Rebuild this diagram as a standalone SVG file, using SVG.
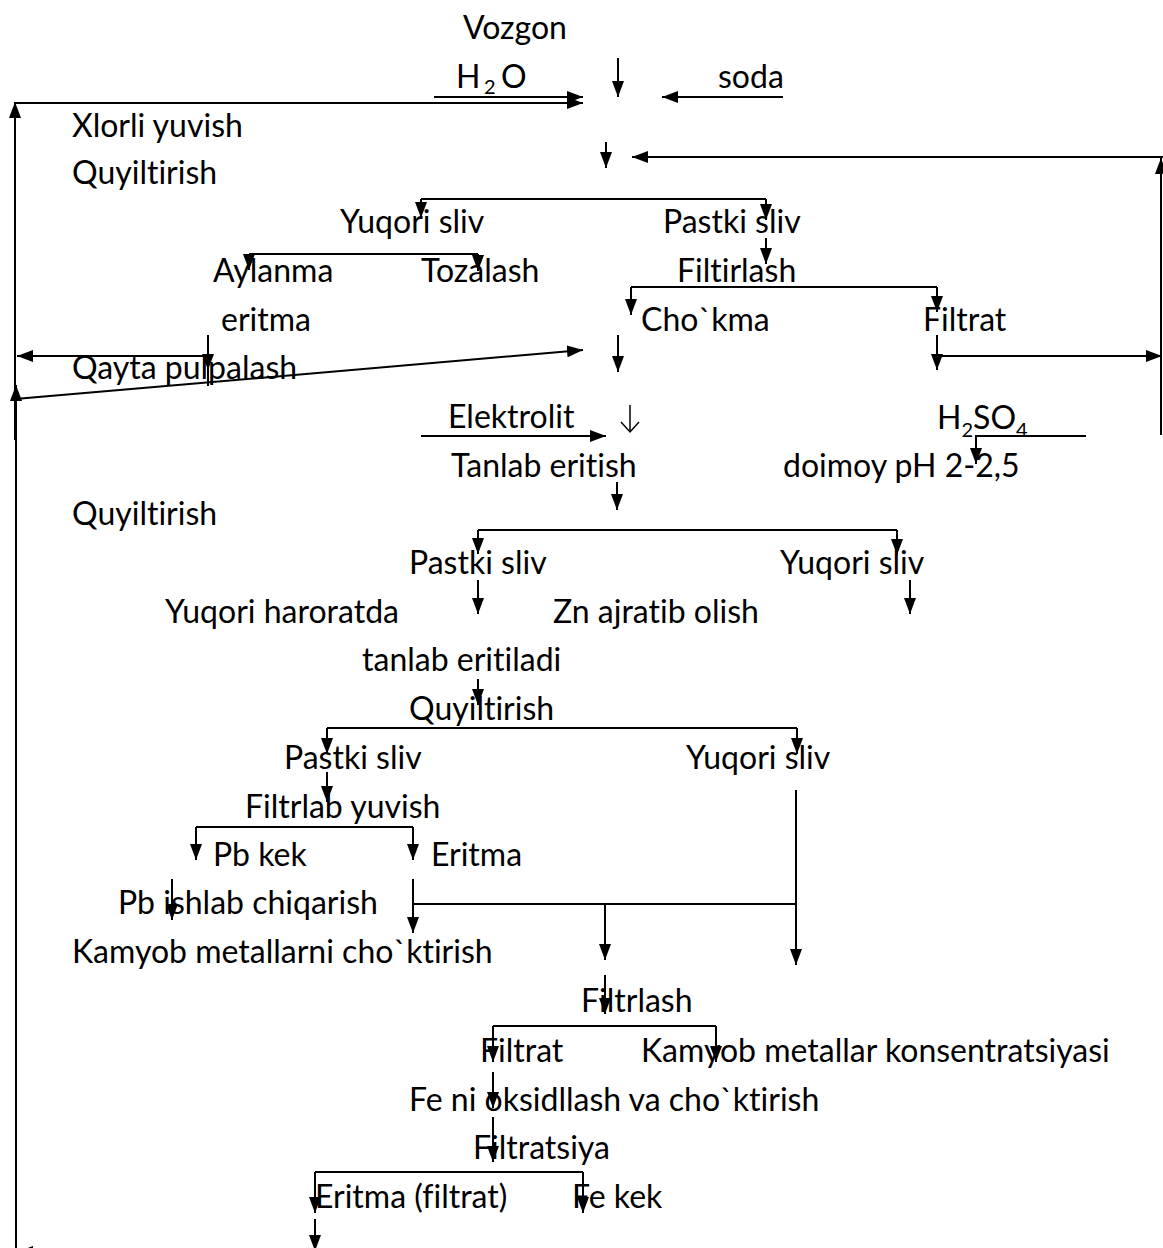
<svg xmlns="http://www.w3.org/2000/svg" width="1163" height="1248" viewBox="0 0 1163 1248">
<style>
.t{font-family:Lato,"Liberation Sans",sans-serif;font-size:32px;fill:#000;font-variant-ligatures:none;font-feature-settings:"liga" 0}
.s{font-size:20px}
.c line,.c path,.c polyline{stroke:#000;stroke-width:2;fill:none}
.c .thin{stroke-width:1.5}
</style>
<defs>
<marker id="ah" viewBox="0 0 16 12" refX="16" refY="6" markerWidth="16" markerHeight="12" markerUnits="userSpaceOnUse" orient="auto"><path d="M0,0 L16,6 L0,12 z" fill="#000"/></marker>
</defs>
<rect width="1163" height="1248" fill="#fff"/>
<g id="connectors" class="c">
<line x1="618" y1="58" x2="618" y2="97" marker-end="url(#ah)"/>
<line x1="434" y1="97" x2="583" y2="97" marker-end="url(#ah)"/>
<line x1="15" y1="103" x2="583" y2="103" marker-end="url(#ah)"/>
<line x1="783" y1="97" x2="662" y2="97" marker-end="url(#ah)"/>
<line x1="606" y1="142" x2="606" y2="168" marker-end="url(#ah)"/>
<line x1="1163" y1="157" x2="632" y2="157" marker-end="url(#ah)"/>
<line x1="1161" y1="435" x2="1161" y2="158" marker-end="url(#ah)"/>
<line x1="15" y1="440" x2="15" y2="102" marker-end="url(#ah)"/>
<line x1="16" y1="1248" x2="16" y2="385" marker-end="url(#ah)"/>
<path d="M421,199 H766"/>
<line x1="421" y1="199" x2="421" y2="218" marker-end="url(#ah)"/>
<line x1="766" y1="199" x2="766" y2="220" marker-end="url(#ah)"/>
<line x1="766" y1="238" x2="766" y2="264" marker-end="url(#ah)"/>
<path d="M249,254 H478"/>
<line x1="249" y1="254" x2="249" y2="270" marker-end="url(#ah)"/>
<line x1="478" y1="254" x2="478" y2="271" marker-end="url(#ah)"/>
<path d="M631,287 H937"/>
<line x1="631" y1="287" x2="631" y2="315" marker-end="url(#ah)"/>
<line x1="937" y1="287" x2="937" y2="312" marker-end="url(#ah)"/>
<line x1="618" y1="335" x2="618" y2="372" marker-end="url(#ah)"/>
<line x1="937" y1="335" x2="937" y2="370" marker-end="url(#ah)"/>
<line x1="937" y1="356" x2="1162" y2="356" marker-end="url(#ah)"/>
<line x1="208" y1="335" x2="208" y2="370" marker-end="url(#ah)"/>
<line x1="208" y1="368" x2="208" y2="386"/>
<line x1="208" y1="356" x2="17" y2="356" marker-end="url(#ah)"/>
<line x1="15" y1="399" x2="583" y2="350" marker-end="url(#ah)"/>
<line x1="421" y1="436" x2="606" y2="436" marker-end="url(#ah)"/>
<line class="thin" x1="630" y1="405" x2="630" y2="432"/>
<polyline class="thin" points="621,422 630,432 639,422"/>
<line x1="617" y1="482" x2="617" y2="510" marker-end="url(#ah)"/>
<path d="M478,530 H897"/>
<line x1="478" y1="530" x2="478" y2="554" marker-end="url(#ah)"/>
<line x1="897" y1="530" x2="897" y2="555" marker-end="url(#ah)"/>
<line x1="478" y1="580" x2="478" y2="614" marker-end="url(#ah)"/>
<line x1="910" y1="580" x2="910" y2="614" marker-end="url(#ah)"/>
<path d="M1086,436 H976 V464" marker-end="url(#ah)"/>
<line x1="478" y1="679" x2="478" y2="705" marker-end="url(#ah)"/>
<path d="M327,728 H797"/>
<line x1="327" y1="728" x2="327" y2="754" marker-end="url(#ah)"/>
<line x1="797" y1="728" x2="797" y2="754" marker-end="url(#ah)"/>
<line x1="327" y1="772" x2="327" y2="802" marker-end="url(#ah)"/>
<path d="M196,827 H413"/>
<line x1="196" y1="827" x2="196" y2="860" marker-end="url(#ah)"/>
<line x1="413" y1="827" x2="413" y2="860" marker-end="url(#ah)"/>
<line x1="172" y1="879" x2="172" y2="920" marker-end="url(#ah)"/>
<line x1="413" y1="879" x2="413" y2="933" marker-end="url(#ah)"/>
<path d="M413,904 H796"/>
<line x1="796" y1="790" x2="796" y2="965" marker-end="url(#ah)"/>
<line x1="605" y1="904" x2="605" y2="960" marker-end="url(#ah)"/>
<line x1="605" y1="975" x2="605" y2="1014" marker-end="url(#ah)"/>
<path d="M493,1026 H716"/>
<line x1="493" y1="1026" x2="493" y2="1062" marker-end="url(#ah)"/>
<line x1="716" y1="1026" x2="716" y2="1062" marker-end="url(#ah)"/>
<line x1="493" y1="1072" x2="493" y2="1108" marker-end="url(#ah)"/>
<line x1="493" y1="1117" x2="493" y2="1162" marker-end="url(#ah)"/>
<path d="M315,1172 H583"/>
<line x1="315" y1="1172" x2="315" y2="1213" marker-end="url(#ah)"/>
<line x1="583" y1="1172" x2="583" y2="1213" marker-end="url(#ah)"/>
<line x1="315" y1="1219" x2="315" y2="1251" marker-end="url(#ah)"/>
<line x1="60" y1="1252" x2="17" y2="1252" marker-end="url(#ah)"/>
</g>
<g id="n-vozgon"><text class="t" x="463" y="39">Vozgon</text></g>
<g id="n-h2o"><text class="t" x="456" y="88">H<tspan class="s" x="484" y="94">2</tspan><tspan x="501" y="88">O</tspan></text></g>
<g id="n-soda"><text class="t" x="718" y="88">soda</text></g>
<g id="n-xlorli"><text class="t" x="72" y="137">Xlorli yuvish</text></g>
<g id="n-quyil1"><text class="t" x="72" y="184">Quyiltirish</text></g>
<g id="n-yuqori1"><text class="t" x="340" y="233">Yuqori sliv</text></g>
<g id="n-pastki1"><text class="t" x="663" y="233">Pastki sliv</text></g>
<g id="n-aylanma"><text class="t" x="213" y="282">Aylanma</text><text class="t" x="221" y="331">eritma</text></g>
<g id="n-tozalash"><text class="t" x="421" y="282">Tozalash</text></g>
<g id="n-filtirlash"><text class="t" x="677" y="282">Filtirlash</text></g>
<g id="n-chokma"><text class="t" x="641" y="331">Cho`kma</text></g>
<g id="n-filtrat1"><text class="t" x="923" y="331">Filtrat</text></g>
<g id="n-qayta"><text class="t" x="72" y="379">Qayta pulpalash</text></g>
<g id="n-elektrolit"><text class="t" x="448" y="428">Elektrolit</text></g>
<g id="n-h2so4"><text class="t" x="937" y="429">H<tspan class="s" dy="8">2</tspan><tspan dy="-8">SO</tspan><tspan class="s" dy="8">4</tspan></text></g>
<g id="n-tanlab"><text class="t" x="451" y="477">Tanlab eritish</text></g>
<g id="n-doimoy"><text class="t" x="783" y="477">doimoy pH 2-2,5</text></g>
<g id="n-quyil2"><text class="t" x="72" y="525">Quyiltirish</text></g>
<g id="n-pastki2"><text class="t" x="409" y="574">Pastki sliv</text></g>
<g id="n-yuqori2"><text class="t" x="780" y="574">Yuqori sliv</text></g>
<g id="n-yuqoriharorat"><text class="t" x="165" y="623">Yuqori haroratda</text><text class="t" x="362" y="671">tanlab eritiladi</text></g>
<g id="n-zn"><text class="t" x="553" y="623">Zn ajratib olish</text></g>
<g id="n-quyil3"><text class="t" x="409" y="720">Quyiltirish</text></g>
<g id="n-pastki3"><text class="t" x="284" y="769">Pastki sliv</text></g>
<g id="n-yuqori3"><text class="t" x="686" y="769">Yuqori sliv</text></g>
<g id="n-filtrlab"><text class="t" x="245" y="818">Filtrlab yuvish</text></g>
<g id="n-pbkek"><text class="t" x="213" y="866">Pb kek</text></g>
<g id="n-eritma2"><text class="t" x="431" y="866">Eritma</text></g>
<g id="n-pbishlab"><text class="t" x="118" y="914">Pb ishlab chiqarish</text></g>
<g id="n-kamyob1"><text class="t" x="72" y="963">Kamyob metallarni cho`ktirish</text></g>
<g id="n-filtrlash"><text class="t" x="581" y="1012">Filtrlash</text></g>
<g id="n-filtrat2"><text class="t" x="480" y="1062">Filtrat</text></g>
<g id="n-kamyob2"><text class="t" x="641" y="1062">Kamyob metallar konsentratsiyasi</text></g>
<g id="n-fe"><text class="t" x="409" y="1111">Fe ni oksidllash va cho`ktirish</text></g>
<g id="n-filtratsiya"><text class="t" x="473" y="1159">Filtratsiya</text></g>
<g id="n-eritma3"><text class="t" x="315" y="1208">Eritma (filtrat)</text></g>
<g id="n-fekek"><text class="t" x="572" y="1208">Fe kek</text></g>
</svg>
